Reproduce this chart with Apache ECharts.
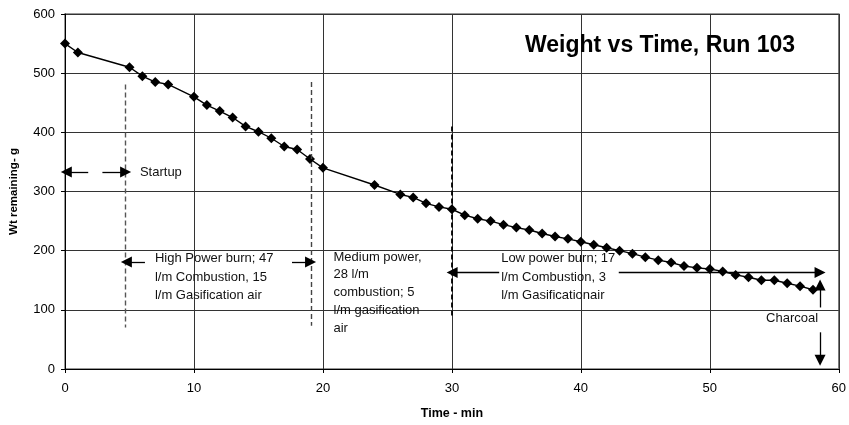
<!DOCTYPE html>
<html><head><meta charset="utf-8">
<script src="https://cdn.jsdelivr.net/npm/echarts@6/dist/echarts.min.js"></script>
<style>html,body{margin:0;padding:0;background:#fff}#c{width:849px;height:425px}</style>
</head><body><div id="c"></div>
<script>
const times   = [0,1,5,6,7,8,10,11,12,13,14,15,16,17,18,19,20,24,26,27,28,29,30,31,32,33,34,35,36,37,38,39,40,41,42,43,44,45,46,47,48,49,50,51,52,53,54,55,56,57,58];
const weights = [550,535,510,495,485,481,460,446,436,425,410,401,390,376,371,355,340,311,295,290,280,274,270,260,254,250,244,239,235,229,224,220,215,210,205,200,195,189,184,180,174,171,169,165,159,155,150,150,145,140,134];
const xTicks = [0,10,20,30,40,50,60];
const yTicks = [0,100,200,300,400,500,600];
const titleText = 'Weight vs Time, Run 103';
const xName = 'Time - min';
const yName = 'Wt remaining- g';

// annotation geometry in data coordinates: [x, yTop, yBottom, colour]
const dashedLines = [[4.7,481,70,'#555'],[19.1,485,73,'#444'],[30.0,410,86,'#000']];
const arrows = [ // [fromX, fromY, toX, toY]
  [1.8,333,0.1,333],[2.9,333,4.7,333],
  [6.2,181,4.76,181],[17.6,181,19.04,181],
  [33.67,163,30.02,163],[42.94,163,58.55,163],
  [58.55,62,58.55,14.6],[58.55,104,58.55,142]
];
const notes = [ // [x, yOfFirstLineCentre, lines, lineHeight]
  [5.81,333,['Startup'],18],
  [6.97,186.5,['High Power burn; 47','l/m Combustion, 15','l/m Gasification air'],18.3],
  [20.82,189.4,['Medium power,','28 l/m','combustion; 5','l/m gasification','air'],17.9],
  [33.82,186.5,['Low power burn; 17','l/m Combustion, 3','l/m Gasificationair'],18.3],
  [54.36,85,['Charcoal'],18]
];

const FONT = '"Liberation Sans", Arial, sans-serif';
const chart = echarts.init(document.getElementById('c'), null, {renderer:'canvas'});
const markData = [];
dashedLines.forEach(d => markData.push([{coord:[d[0],d[1]],symbol:'none',lineStyle:{type:[5,3],color:d[3],width:d[3]==='#000'?1.8:1.4}},{coord:[d[0],d[2]],symbol:'none'}]));
arrows.forEach(a => markData.push([{coord:[a[0],a[1]],symbol:'none',lineStyle:{type:'solid',color:'#000',width:1.3}},{coord:[a[2],a[3]],symbol:'triangle',symbolSize:[11,11]}]));

chart.setOption({
  animation:false,
  grid:{left:62,right:8.3,top:14,bottom:53,show:true,borderColor:'#777',borderWidth:1.5},
  xAxis:{type:'value',min:0,max:60,interval:10,
    name:xName,nameLocation:'middle',nameGap:38,
    nameTextStyle:{fontFamily:FONT,fontSize:12.5,fontWeight:'bold',color:'#000'},
    axisLine:{show:true,onZero:false,lineStyle:{color:'#000',width:1}},
    axisTick:{show:true,length:4,lineStyle:{color:'#000'}},
    axisLabel:{margin:13,fontFamily:FONT,fontSize:13,color:'#000',
      formatter:v=>xTicks.includes(v)?String(v):''},
    splitLine:{show:true,lineStyle:{color:'#333',width:1}}},
  yAxis:{type:'value',min:0,max:600,interval:100,
    name:yName,nameLocation:'middle',nameGap:45,
    nameTextStyle:{fontFamily:FONT,fontSize:11.5,fontWeight:'bold',color:'#000'},
    axisLine:{show:true,lineStyle:{color:'#000',width:1}},
    axisTick:{show:true,length:4,lineStyle:{color:'#000'}},
    axisLabel:{margin:10,fontFamily:FONT,fontSize:13,color:'#000',
      formatter:v=>yTicks.includes(v)?String(v):''},
    splitLine:{show:true,lineStyle:{color:'#333',width:1}}},
  series:[
    {type:'line',data:times.map((t,i)=>[t,weights[i]]),symbol:'diamond',symbolSize:10,
     lineStyle:{color:'#000',width:1.4},itemStyle:{color:'#000'},z:5},
    {type:'line',data:[],markLine:{silent:true,animation:false,label:{show:false},z:6,
      emphasis:{disabled:true},data:markData},z:6}
  ]
});

const g = [];
notes.forEach(n => {
  const p = chart.convertToPixel({gridIndex:0},[n[0],n[1]]);
  n[2].forEach((line,i) => {
    g.push({type:'text',x:p[0],y:p[1]+i*n[3],silent:true,
      style:{text:line,font:'13px '+FONT,fill:'#111',textAlign:'left',textVerticalAlign:'middle'}});
  });
});
g.push({type:'text',x:525,y:45.3,silent:true,
  style:{text:titleText,font:'bold 23px '+FONT,fill:'#000',textAlign:'left',textVerticalAlign:'middle'}});
chart.setOption({graphic:g});
</script></body></html>
